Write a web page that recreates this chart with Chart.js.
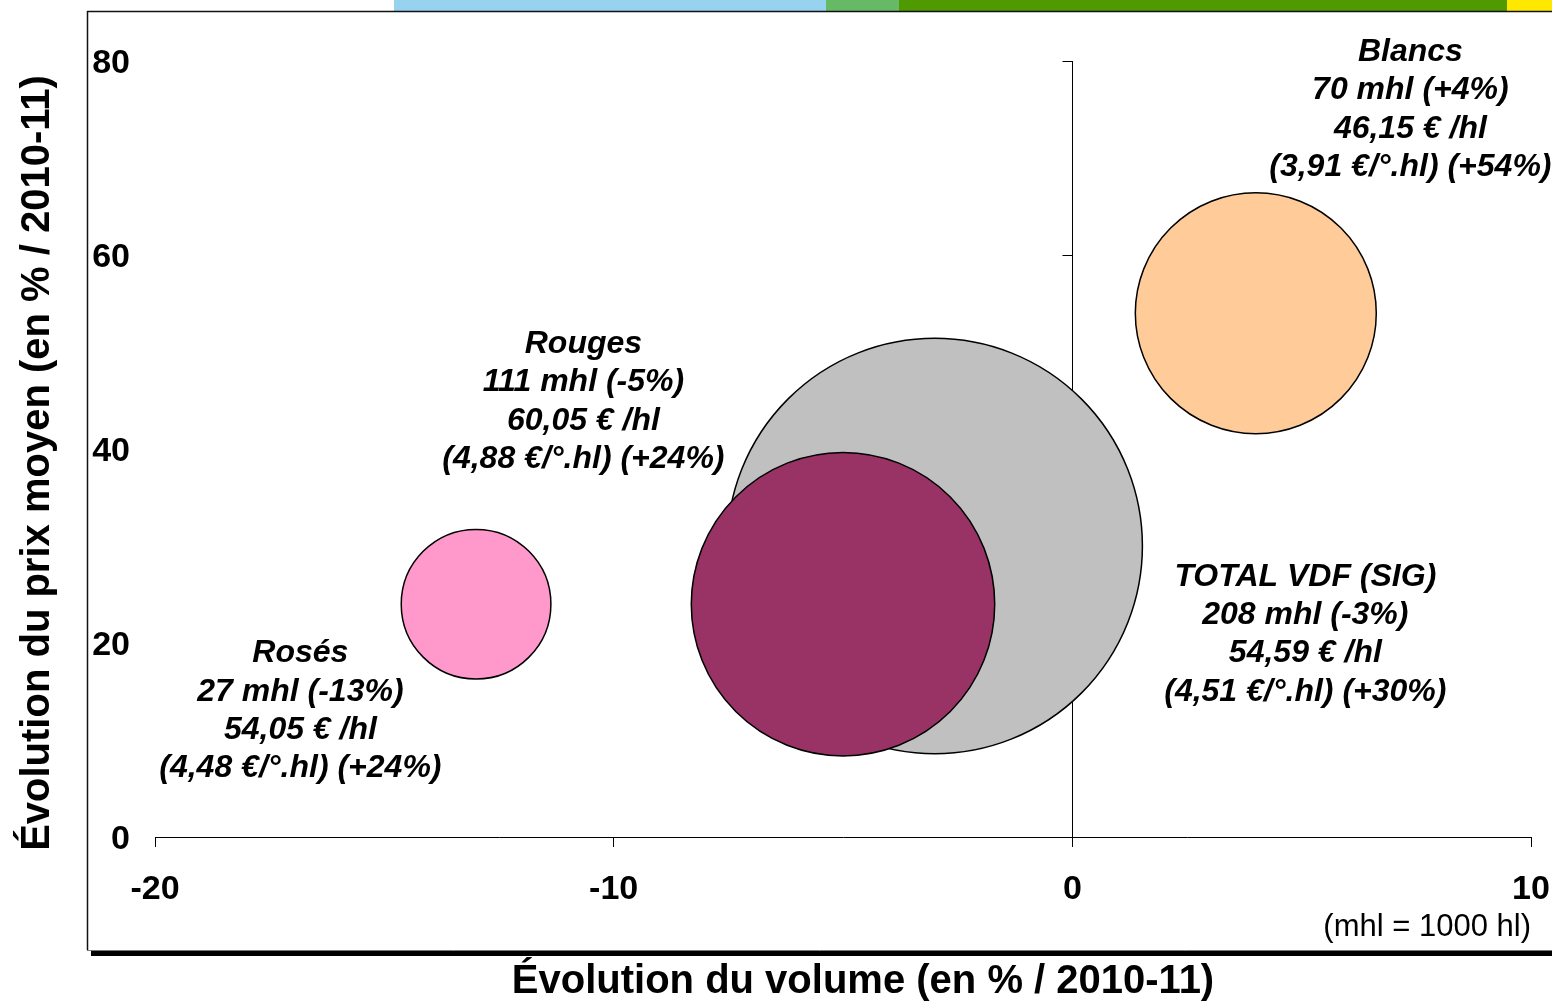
<!DOCTYPE html>
<html>
<head>
<meta charset="utf-8">
<script src="https://cdn.jsdelivr.net/npm/chart.js@4/dist/chart.umd.min.js"></script>
<style>
  body { margin: 0; background: #fff; }
  #dataChart { display: block; }
</style>
</head>
<body>
<canvas id="dataChart" width="1552" height="1001"></canvas>
<script>
// données (évolution / 2010-11)
const categories = ['Rosés', 'TOTAL VDF (SIG)', 'Rouges', 'Blancs'];
const volumeChange = [-13, -3, -5, 4];            // axe x, en %
const priceChange = [24, 30, 24, 54];             // axe y, en %
const volumes = [27, 208, 111, 70];               // mhl
const pricePerHl = [54.05, 54.59, 60.05, 46.15];  // €/hl
const pricePerDegree = [4.48, 4.51, 4.88, 3.91];  // €/°.hl
const xTicks = [-20, -10, 0, 10];
const yTicks = [0, 20, 40, 60, 80];

// styles
const bubbleColors = ['#FF99CC', '#C0C0C0', '#993366', '#FFCC99'];
const BUBBLE_SCALE = 14.4; // px par racine de mhl
const FONT = '"Liberation Sans", Arial, sans-serif';
// ancrage des étiquettes (en unités des axes, centre de la 1re ligne)
const labelAt = [[-16.83, 18.9], [5.08, 26.8], [-10.66, 50.8], [7.37, 80.9]];

const signed = (v) => (v > 0 ? '+' : '') + v + '%';
const fr = (v) => v.toFixed(2).replace('.', ',');

const labelLines = (i) => [
    categories[i],
    volumes[i] + ' mhl (' + signed(volumeChange[i]) + ')',
    fr(pricePerHl[i]) + ' € /hl',
    '(' + fr(pricePerDegree[i]) + ' €/°.hl) (' + signed(priceChange[i]) + ')'
];

const framePlugin = {
    id: 'frame',
    beforeDraw(chart) {
        const ctx = chart.ctx;
        ctx.save();
        // bandeau de couleurs en haut
        const bands = [[394, 826, '#97D3EE'], [826, 899, '#66BA66'], [899, 1507, '#4E9A00'], [1507, 1552, '#FFE800']];
        bands.forEach(([a, b, c]) => {
            ctx.fillStyle = c;
            ctx.fillRect(a, 0, b - a, 11);
        });
        ctx.strokeStyle = '#111';
        ctx.lineWidth = 1.5;
        ctx.beginPath();
        ctx.moveTo(87, 11.5);
        ctx.lineTo(1552, 11.5);
        ctx.moveTo(87.5, 11);
        ctx.lineTo(87.5, 950);
        ctx.stroke();
        ctx.strokeStyle = '#777';
        ctx.lineWidth = 1;
        ctx.beginPath();
        ctx.moveTo(87, 950.5);
        ctx.lineTo(1552, 950.5);
        ctx.stroke();
        ctx.fillStyle = '#000';
        ctx.fillRect(91, 951, 1461, 5);

        // titres des axes
        ctx.fillStyle = '#000';
        ctx.font = 'bold 40px ' + FONT;
        ctx.textAlign = 'center';
        ctx.textBaseline = 'middle';
        ctx.fillText('Évolution du volume (en % / 2010-11)', 863, 982);
        ctx.save();
        ctx.translate(38, 463);
        ctx.rotate(-Math.PI / 2);
        ctx.fillText('Évolution du prix moyen (en % / 2010-11)', 0, 0);
        ctx.restore();

        ctx.font = '31px ' + FONT;
        ctx.textAlign = 'right';
        ctx.fillText('(mhl = 1000 hl)', 1531, 927);
        ctx.restore();
    },
    beforeDatasetsDraw(chart) {
        // axe vertical en x = 0
        const { ctx, scales: { x, y } } = chart;
        const x0 = Math.round(x.getPixelForValue(0)) + 0.5;
        ctx.save();
        ctx.strokeStyle = '#000';
        ctx.lineWidth = 1;
        ctx.beginPath();
        ctx.moveTo(x0, y.getPixelForValue(yTicks[yTicks.length - 1]));
        ctx.lineTo(x0, y.getPixelForValue(0));
        yTicks.forEach((v) => {
            const py = Math.round(y.getPixelForValue(v)) + 0.5;
            ctx.moveTo(x0 - 10, py);
            ctx.lineTo(x0, py);
        });
        ctx.stroke();
        ctx.restore();
    },
    afterDatasetsDraw(chart) {
        const { ctx, scales: { x, y } } = chart;
        ctx.save();
        ctx.fillStyle = '#000';
        ctx.font = 'italic bold 32px ' + FONT;
        ctx.textAlign = 'center';
        ctx.textBaseline = 'middle';
        categories.forEach((c, i) => {
            const px = x.getPixelForValue(labelAt[i][0]);
            const py = y.getPixelForValue(labelAt[i][1]);
            labelLines(i).forEach((line, k) => {
                ctx.fillText(line, px, py + k * 38.3);
            });
        });
        ctx.restore();
    }
};

const setChart = () => {
    const data = {
        datasets: [{
            label: 'VDF',
            data: categories.map((c, i) => ({
                x: volumeChange[i],
                y: priceChange[i],
                r: BUBBLE_SCALE * Math.sqrt(volumes[i])
            })),
            backgroundColor: bubbleColors,
            borderColor: '#000',
            borderWidth: 1.5,
            clip: false
        }]
    };

    const config = {
        type: 'bubble',
        data: data,
        plugins: [framePlugin],
        options: {
            responsive: false,
            animation: false,
            layout: { autoPadding: false, padding: { top: 61, right: 21, left: 0, bottom: 0 } },
            plugins: {
                legend: { display: false },
                tooltip: { enabled: false }
            },
            scales: {
                x: {
                    type: 'linear',
                    min: xTicks[0],
                    max: xTicks[xTicks.length - 1],
                    afterBuildTicks: (scale) => { scale.ticks = xTicks.map((v) => ({ value: v })); },
                    afterFit: (scale) => {
                        scale.height = 164;
                        scale.paddingLeft = 0;
                        scale.paddingRight = 0;
                    },
                    border: { display: true, color: '#000', width: 1 },
                    grid: { display: true, drawOnChartArea: false, drawTicks: true, tickLength: 10, color: '#000' },
                    ticks: {
                        color: '#000',
                        padding: 22,
                        maxRotation: 0,
                        font: { family: FONT, size: 34, weight: 'bold' },
                        callback: (v) => String(v)
                    }
                },
                y: {
                    type: 'linear',
                    min: yTicks[0],
                    max: yTicks[yTicks.length - 1],
                    afterBuildTicks: (scale) => { scale.ticks = yTicks.map((v) => ({ value: v })); },
                    afterFit: (scale) => {
                        scale.width = 155;
                        scale.paddingTop = 0;
                        scale.paddingBottom = 0;
                    },
                    border: { display: false },
                    grid: { display: false, drawTicks: false },
                    ticks: {
                        color: '#000',
                        padding: 25,
                        labelOffset: 3,
                        font: { family: FONT, size: 34, weight: 'bold' },
                        callback: (v) => String(v)
                    }
                }
            }
        }
    };

    return new Chart(document.getElementById('dataChart'), config);
};

setChart();
</script>
</body>
</html>
